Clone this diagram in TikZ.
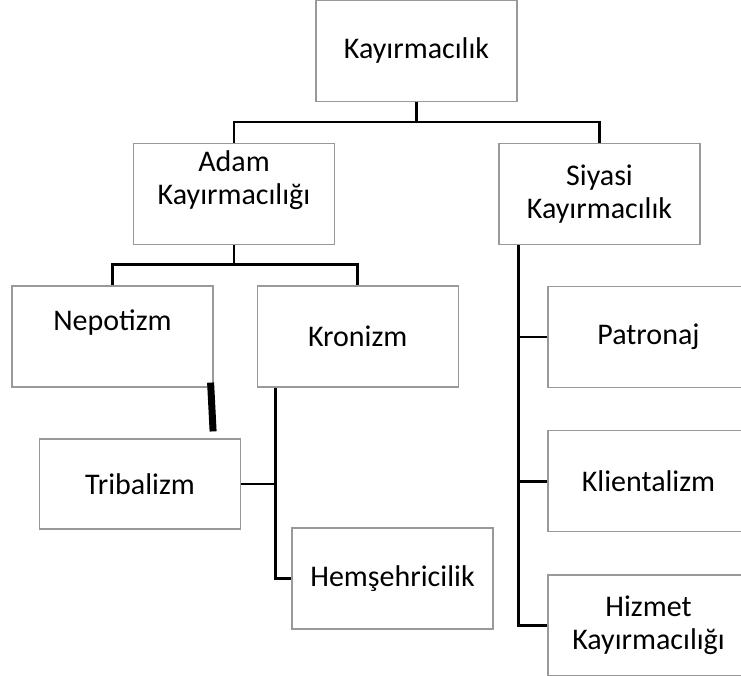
\documentclass[tikz,border=0pt]{standalone}
\usepackage{fontspec}
\setmainfont{Carlito}
\usetikzlibrary{positioning}

\begin{document}
\begin{tikzpicture}[x=1pt, y=-1pt, node distance=42pt, thick,
    kutu/.style={draw=black!40, line width=1.2pt, fill=white, minimum width=201pt, minimum height=101pt, inner sep=0pt, align=center, font=\fontsize{30}{33}\selectfont},
    bag/.style={line width=2.6pt}]
    \useasboundingbox (0,0) rectangle (741,676);
    \clip (0,0) rectangle (741,676);

    % kutular
    \node [kutu] (root) at (416.5,51) {Kayırmacılık};
    \node [kutu] (adam) at (234,194) {Adam\\Kayırmacılığı\\~};
    \node [kutu] (siyasi) at (599.5,194) {Siyasi\\Kayırmacılık};
    \node [kutu] (nepotizm) at (112.5,336.5) {Nepotizm\\~};
    \node [kutu, right=43pt of nepotizm] (kronizm) {Kronizm};
    \node [kutu, minimum height=90pt] (tribalizm) at (140,484) {Tribalizm};
    \node [kutu] (hemsehri) at (392.5,578.5) {Hemşehricilik};
    \node [kutu] (patronaj) at (648.5,337) {Patronaj};
    \node [kutu, below=of patronaj] (klient) {Klientalizm};
    \node [kutu, below=of klient] (hizmet) {Hizmet\\Kayırmacılığı};

    % baglantilar
    \draw [bag] (root.south) -- ++(0,21);
    \draw [bag] (adam.north) -- ++(0,-21) -| (siyasi.north);
    \draw [bag] (adam.south) -- ++(0,21);
    \draw [bag] (nepotizm.north) -- ++(0,-21) -| (kronizm.north);
    \draw [bag] (kronizm.south west) ++(19,0) coordinate (k1) |- (hemsehri.west);
    \draw [bag] (tribalizm.east) -| (k1);
    \draw [bag] (siyasi.south west) ++(20,0) coordinate (s1) |- (hizmet.west);
    \draw [bag] (patronaj.west) -| (s1);
    \draw [bag] (klient.west) -| (s1);
    \coordinate (t1) at ([shift={(-3,-5)}]nepotizm.south east);
    \coordinate (t2) at ([shift={(-28,-7)}]tribalizm.north east);
    \draw [line width=7pt] (t1) -- (t2);
\end{tikzpicture}
\end{document}
